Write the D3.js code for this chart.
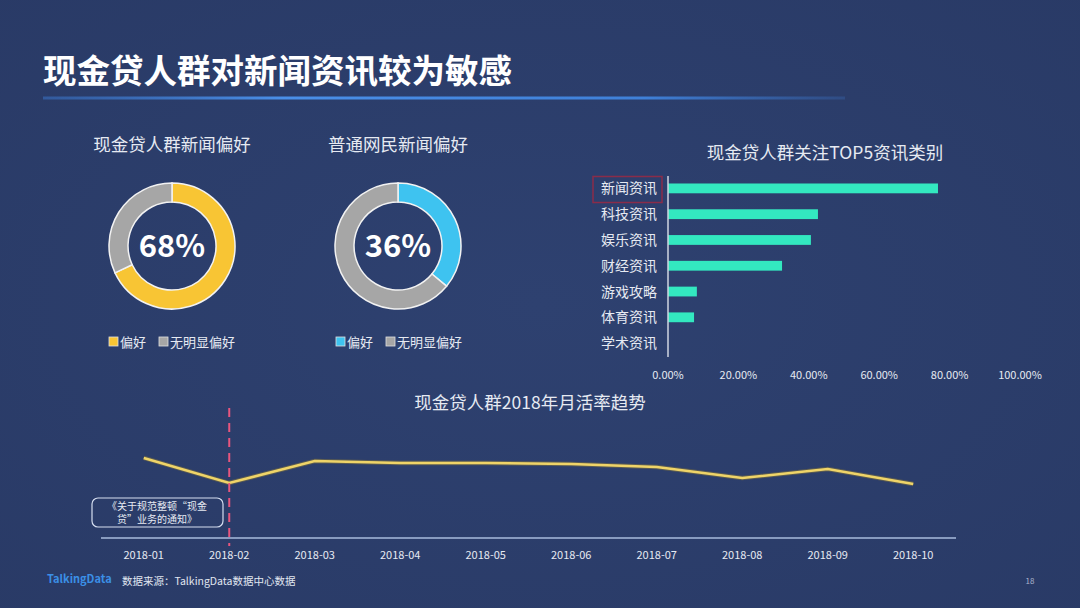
<!DOCTYPE html>
<html><head><meta charset="utf-8">
<script src="https://cdn.jsdelivr.net/npm/d3@7"></script>
<style>
html,body{margin:0;padding:0;background:#2c3e6c;}
svg{display:block;}
text{font-family:"Noto Sans CJK SC","Noto Sans",sans-serif;}
</style></head>
<body>
<svg id="c" width="1080" height="608"></svg>
<script>
// ---- data ----
const pageTitle = "现金贷人群对新闻资讯较为敏感";
const donutLabels = ["偏好", "无明显偏好"];
const cashLoanNews = [68, 32];
const netizenNews = [36, 64];
const topCategories = ["新闻资讯","科技资讯","娱乐资讯","财经资讯","游戏攻略","体育资讯","学术资讯"];
const topValues = [0.767, 0.426, 0.406, 0.324, 0.082, 0.074, 0];
const barTicks = [0, 0.2, 0.4, 0.6, 0.8, 1.0];
const months = ["2018-01","2018-02","2018-03","2018-04","2018-05","2018-06","2018-07","2018-08","2018-09","2018-10"];
const activeRate = [0.667, 0.458, 0.642, 0.625, 0.625, 0.617, 0.592, 0.500, 0.575, 0.450];
const policyMonth = "2018-02";

const svg = d3.select("#c");
const W = 1080, H = 608;

// background with subtle vignette
const defs = svg.append("defs");
const bg = defs.append("radialGradient").attr("id","bg").attr("cx","50%").attr("cy","50%").attr("r","75%");
bg.append("stop").attr("offset","0%").attr("stop-color","#2e4170");
bg.append("stop").attr("offset","100%").attr("stop-color","#293a66");
svg.append("rect").attr("width",W).attr("height",H).attr("fill","url(#bg)");

// title
svg.append("text").attr("x",43).attr("y",83).text(pageTitle)
  .attr("fill","#ffffff").attr("font-size",33.5).attr("font-weight","bold");
const ul = defs.append("linearGradient").attr("id","ul");
ul.append("stop").attr("offset","0%").attr("stop-color","#3b78d0").attr("stop-opacity",0.5);
ul.append("stop").attr("offset","30%").attr("stop-color","#4a8fe8");
ul.append("stop").attr("offset","75%").attr("stop-color","#3f80d8");
ul.append("stop").attr("offset","100%").attr("stop-color","#3a6fc0").attr("stop-opacity",0.3);
svg.append("rect").attr("x",43).attr("y",96.5).attr("width",802).attr("height",3).attr("fill","url(#ul)");

// ---- donuts ----
function donut(cx, cy, values, colors, title, legendX) {
  const g = svg.append("g").attr("transform",`translate(${cx},${cy})`);
  const pie = d3.pie().sort(null).value(d=>d);
  const arc = d3.arc().innerRadius(44).outerRadius(63);
  g.selectAll("path").data(pie(values)).join("path")
    .attr("d",arc).attr("fill",(d,i)=>colors[i])
    .attr("stroke","#f2f2f2").attr("stroke-width",1.5);
  g.append("text").attr("text-anchor","middle").attr("y",11)
    .attr("font-family","'Open Sans',sans-serif").attr("font-weight",600)
    .attr("font-size",31).attr("fill","#ffffff").text(values[0]+"%");
  svg.append("text").attr("x",cx).attr("y",151).attr("text-anchor","middle")
    .attr("font-size",17.5).attr("fill","#e6eaf2").text(title);
  // legend
  const lg = svg.append("g").attr("transform",`translate(${legendX},342)`);
  let x = 0;
  donutLabels.forEach((l,i)=>{
    lg.append("rect").attr("x",x).attr("y",-5).attr("width",9).attr("height",9)
      .attr("fill",colors[i]).attr("stroke","#e0e0e0").attr("stroke-width",0.8);
    lg.append("text").attr("x",x+11).attr("y",5).attr("font-size",13).attr("fill","#e6eaf2").text(l);
    x += 50;
  });
}
donut(172, 246, cashLoanNews, ["#f8c534","#a6a6a6"], "现金贷人群新闻偏好", 109);
donut(398, 246, netizenNews, ["#3ec3f0","#a6a6a6"], "普通网民新闻偏好", 336);

// ---- horizontal bar chart ----
const bx = d3.scaleLinear().domain([0,1]).range([668,1020]);
const by = d3.scaleBand().domain(topCategories).range([175.5,356]).paddingInner(0.62).paddingOuter(0.31);
svg.append("text").attr("x",825).attr("y",159).attr("text-anchor","middle")
  .attr("font-size",17.5).attr("fill","#e6eaf2").text("现金贷人群关注TOP5资讯类别");
svg.append("g").selectAll("rect").data(topCategories).join("rect")
  .attr("x",bx(0)).attr("y",d=>by(d)).attr("height",by.bandwidth())
  .attr("width",(d,i)=>bx(topValues[i])-bx(0)).attr("fill","#33e8c0");
svg.append("line").attr("x1",bx(0)).attr("x2",bx(0)).attr("y1",176).attr("y2",357)
  .attr("stroke","#d0d6e2").attr("stroke-width",1.5);
svg.append("g").selectAll("text").data(topCategories).join("text")
  .attr("x",657).attr("y",d=>by(d)+by.bandwidth()/2+5).attr("text-anchor","end")
  .attr("font-size",14).attr("fill","#e6eaf2").text(d=>d);
svg.append("rect").attr("x",593).attr("y",176.5).attr("width",69).attr("height",26)
  .attr("fill","none").attr("stroke","#8a2c4a").attr("stroke-width",1.5);
svg.append("g").selectAll("text").data(barTicks).join("text")
  .attr("x",d=>bx(d)).attr("y",379).attr("text-anchor","middle")
  .attr("font-family","'Open Sans',sans-serif").attr("font-size",11).attr("fill","#e6eaf2")
  .text(d=>d3.format(".2%")(d));

// ---- line chart ----
const lx = d3.scaleBand().domain(months).range([101,956]);
const ly = d3.scaleLinear().domain([0,1]).range([538,418]);
svg.append("text").attr("x",530).attr("y",409).attr("text-anchor","middle")
  .attr("font-size",17.5).attr("fill","#e6eaf2").text("现金贷人群2018年月活率趋势");
svg.append("line").attr("x1",101).attr("x2",956).attr("y1",538).attr("y2",538)
  .attr("stroke","#a9bbdc").attr("stroke-width",1.5);
svg.append("g").selectAll("text").data(months).join("text")
  .attr("x",d=>lx(d)+lx.bandwidth()/2).attr("y",559).attr("text-anchor","middle")
  .attr("font-family","'Open Sans',sans-serif").attr("font-size",11).attr("fill","#e6eaf2").text(d=>d);
const line = d3.line().x((d,i)=>lx(months[i])+lx.bandwidth()/2).y(d=>ly(d));
svg.append("path").datum(activeRate).attr("d",line).attr("fill","none")
  .attr("stroke","#8a7a3a").attr("stroke-width",4.5).attr("stroke-opacity",0.5);
svg.append("path").datum(activeRate).attr("d",line).attr("fill","none")
  .attr("stroke","#efd468").attr("stroke-width",2.5);
const px = lx(policyMonth)+lx.bandwidth()/2;
svg.append("line").attr("x1",px).attr("x2",px).attr("y1",408).attr("y2",546)
  .attr("stroke","#e8557e").attr("stroke-width",2).attr("stroke-dasharray","9,6");
svg.append("rect").attr("x",92).attr("y",498).attr("width",131).attr("height",29).attr("rx",6)
  .attr("fill","none").attr("stroke","#d5def0").attr("stroke-width",1.2);
svg.append("text").attr("x",157).attr("y",510).attr("text-anchor","middle")
  .attr("font-size",10).attr("fill","#e6eaf2").text("《关于规范整顿“现金");
svg.append("text").attr("x",157).attr("y",523).attr("text-anchor","middle")
  .attr("font-size",10).attr("fill","#e6eaf2").text("贷”业务的通知》");

// footer
svg.append("text").attr("x",47).attr("y",583).attr("font-family","'Open Sans',sans-serif")
  .attr("font-weight","bold").attr("font-size",11).attr("fill","#3b8fe6").text("TalkingData");
svg.append("text").attr("x",122).attr("y",585).attr("font-size",10.5).attr("fill","#e0e6f0")
  .text("数据来源：TalkingData数据中心数据");
svg.append("text").attr("x",1030).attr("y",584).attr("text-anchor","middle").attr("font-size",8)
  .attr("fill","#aab4cc").text("18");
</script>
</body></html>
